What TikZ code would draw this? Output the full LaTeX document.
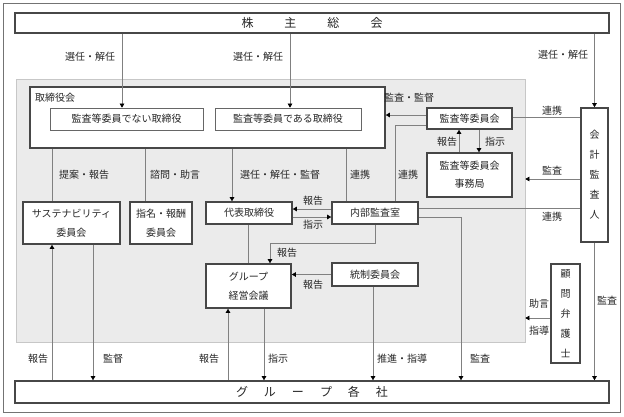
\documentclass[tikz,border=0pt]{standalone}
\usepackage{fontspec}
\setmainfont{Noto Sans CJK JP}
\usetikzlibrary{arrows.meta}
\begin{document}
\begin{tikzpicture}[x=1pt,y=-1pt,
  box/.style={draw=black!72, line width=1.6pt, fill=white, inner sep=0pt, align=center, font=\fontsize{10}{19}\selectfont, text=black!85},
  thinbox/.style={draw=black!60, line width=0.7pt, fill=white, inner sep=0pt, font=\fontsize{10}{12}\selectfont, text=black!85},
  lbl/.style={font=\fontsize{10}{12}\selectfont, text=black!85, inner sep=0pt},
  ln/.style={draw=black!50, line width=0.6pt},
  arr/.style={ln, -{Triangle[length=4pt,width=4.5pt,color=black]}},
]
\useasboundingbox (0,0) rectangle (624,416);
\node[draw=black!55, line width=0.7pt, minimum width=617pt, minimum height=409pt, inner sep=0pt] (frame) at (311.5,207.5) {};
\node[draw=black!22, fill=black!8, line width=0.7pt, minimum width=509pt, minimum height=263pt, inner sep=0pt] (bg) at (270.5,210.5) {};

% boxes
\node[box, minimum width=594pt, minimum height=20pt, font=\fontsize{12}{14}\selectfont] (sh) at (312,23) {株\hspace{31pt}主\hspace{31pt}総\hspace{31pt}会};
\node[box, minimum width=594pt, minimum height=22pt, font=\fontsize{12}{14}\selectfont] (gc) at (312,392) {グ\hspace{16pt}ル\hspace{16pt}ー\hspace{16pt}プ\hspace{16pt}各\hspace{16pt}社};
\node[box, minimum width=355pt, minimum height=61pt] (bd) at (207.5,117.5) {};
\node[lbl, anchor=west] (bdl) at (35,98) {取締役会};
\node[thinbox, minimum width=153pt, minimum height=22pt] (d1) at (126.5,119) {監査等委員でない取締役};
\node[thinbox, minimum width=146pt, minimum height=22pt] (d2) at (288,119) {監査等委員である取締役};
\node[box, minimum width=85pt, minimum height=21pt] (acm) at (469.5,118.5) {監査等委員会};
\node[box, minimum width=85pt, minimum height=44pt, font=\fontsize{10}{18}\selectfont] (acmo) at (469.5,175) {監査等委員会\\事務局};
\node[box, minimum width=27pt, minimum height=134pt, font=\fontsize{10}{20}\selectfont] (aud) at (594.5,175) {会\\計\\監\\査\\人};
\node[box, minimum width=86pt, minimum height=22pt] (rep) at (249,213) {代表取締役};
\node[box, minimum width=86pt, minimum height=22pt] (ia) at (375,213) {内部監査室};
\node[box, minimum width=85pt, minimum height=44pt] (gm) at (248.5,286) {グループ\\経営会議};
\node[box, minimum width=86pt, minimum height=23pt] (cc) at (375,274.5) {統制委員会};
\node[box, minimum width=97pt, minimum height=42pt] (sus) at (71.5,223) {サステナビリティ\\委員会};
\node[box, minimum width=62pt, minimum height=42pt] (nom) at (161,223) {指名・報酬\\委員会};
\node[box, minimum width=29pt, minimum height=99pt, font=\fontsize{10}{20}\selectfont] (law) at (565.5,313.5) {顧\\問\\弁\\護\\士};

% connectors
\draw[arr] (122,0 |- sh.south) -- (122,0 |- d1.north);
\draw[arr] (290,0 |- sh.south) -- (290,0 |- d2.north);
\draw[arr] (sh.south -| aud.north) -- (aud.north);
\draw[arr] (acm.west |- 0,115) -- (bd.east |- 0,115);
\draw[ln] (acm.east |- 0,117) -- (aud.west |- 0,117);
\draw[arr] (459,0 |- acmo.north) -- (459,0 |- acm.south);
\draw[arr] (479,0 |- acm.south) -- (479,0 |- acmo.north);
\draw[arr] (aud.west |- 0,179) -- (bg.east |- 0,179);
\draw[ln] (ia.east |- 0,208) -- (aud.west |- 0,208);
\draw[arr] (ia.east |- 0,217) -| (461,0 |- gc.north);
\draw[ln] (acm.west |- 0,125) -| (395,0 |- ia.north);
\draw[ln] (346,0 |- bd.south) -- (346,0 |- ia.north);
\draw[arr] (232,0 |- bd.south) -- (232,0 |- rep.north);
\draw[arr] (ia.west |- 0,209) -- (rep.east |- 0,209);
\draw[arr] (rep.east |- 0,217) -- (ia.west |- 0,217);
\draw[ln] (248,0 |- rep.south) -- (248,0 |- gm.north);
\draw[arr] (ia.south) -- (ia.south |- 0,243) -| (270,0 |- gm.north);
\draw[arr] (cc.west) -- (cc.west -| gm.east);
\draw[arr] (373,0 |- cc.south) -- (373,0 |- gc.north);
\draw[arr] (228,0 |- gc.north) -- (228,0 |- gm.south);
\draw[arr] (264,0 |- gm.south) -- (264,0 |- gc.north);
\draw[ln] (52,0 |- bd.south) -- (52,0 |- sus.north);
\draw[arr] (52,0 |- gc.north) -- (52,0 |- sus.south);
\draw[arr] (93,0 |- sus.south) -- (93,0 |- gc.north);
\draw[ln] (145,0 |- bd.south) -- (145,0 |- nom.north);
\draw[arr] (law.west |- 0,318) -- (bg.east |- 0,318);
\draw[arr] (aud.south) -- (aud.south |- gc.north);

% labels
\node[lbl] (t1) at (90,57) {選任・解任};
\node[lbl] (t2) at (258,57) {選任・解任};
\node[lbl] (t3) at (563,55) {選任・解任};
\node[lbl] (t4) at (409,98) {監査・監督};
\node[lbl] (t5) at (552,111) {連携};
\node[lbl] (t6) at (447,142) {報告};
\node[lbl] (t7) at (495,142) {指示};
\node[lbl] (t8) at (552,171) {監査};
\node[lbl] (t9) at (552,217) {連携};
\node[lbl] (t10) at (360,175) {連携};
\node[lbl] (t11) at (408,175) {連携};
\node[lbl] (t12) at (84,175) {提案・報告};
\node[lbl] (t13) at (175,175) {諮問・助言};
\node[lbl] (t14) at (280,175) {選任・解任・監督};
\node[lbl] (t15) at (313,201) {報告};
\node[lbl] (t16) at (313,225) {指示};
\node[lbl] (t17) at (287,253) {報告};
\node[lbl] (t18) at (313,285) {報告};
\node[lbl] (t19) at (38,359) {報告};
\node[lbl] (t20) at (113,359) {監督};
\node[lbl] (t21) at (209,359) {報告};
\node[lbl] (t22) at (278,359) {指示};
\node[lbl] (t23) at (402,359) {推進・指導};
\node[lbl] (t24) at (480,359) {監査};
\node[lbl] (t25) at (539,304) {助言};
\node[lbl] (t26) at (539,331) {指導};
\node[lbl] (t27) at (607,301) {監査};
\end{tikzpicture}
\end{document}
